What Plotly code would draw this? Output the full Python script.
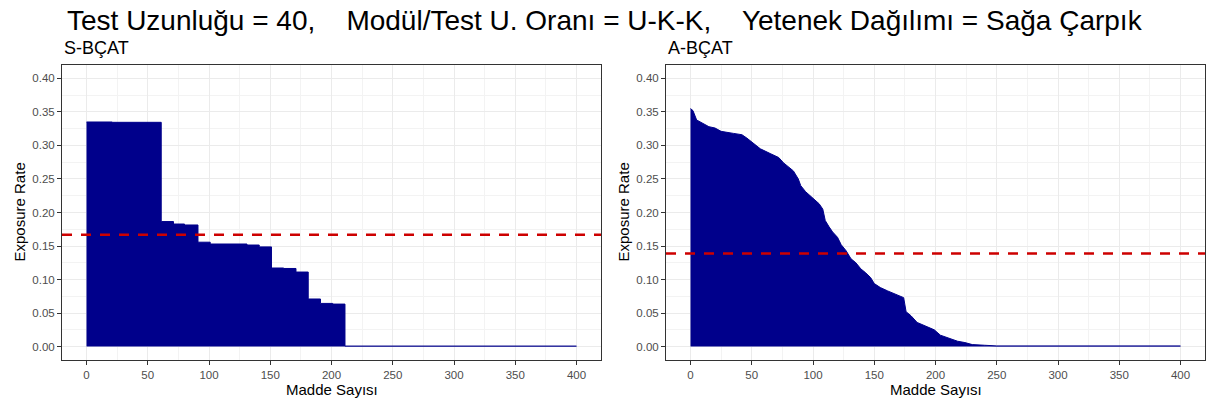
import plotly.graph_objects as go

# ---------------- data ----------------
# S-BÇAT: step levels (item index where level starts, exposure rate)
s_items = [0, 21, 61, 71, 80, 91, 101, 131, 141, 151, 161, 171, 181, 191, 201, 211, 400]
s_rates = [0.335, 0.3345, 0.1865, 0.1828, 0.1814, 0.1557, 0.1530, 0.1515, 0.1487,
           0.1172, 0.1165, 0.1112, 0.0710, 0.0644, 0.0634, 0.0008, 0.0008]
s_mean = 0.1667

# A-BÇAT: sorted exposure rates
a_items = [0, 2, 5, 10, 15, 20, 25, 35, 42, 46, 50, 57, 65, 72, 76, 80, 84, 88, 90, 94,
           101, 105, 108, 110, 113, 116, 120, 123, 127, 131, 135, 139, 143, 147, 150,
           155, 161, 166, 171, 174, 176, 180, 185, 190, 195, 199, 204, 210, 218, 224,
           230, 240, 250, 400]
a_rates = [0.355, 0.352, 0.338, 0.333, 0.328, 0.326, 0.321, 0.318, 0.316, 0.311, 0.305,
           0.295, 0.288, 0.282, 0.274, 0.268, 0.262, 0.250, 0.240, 0.231,
           0.220, 0.213, 0.205, 0.188, 0.179, 0.171, 0.163, 0.152, 0.143, 0.131,
           0.125, 0.116, 0.110, 0.103, 0.094,
           0.088, 0.083, 0.079, 0.076, 0.073, 0.052, 0.046, 0.036, 0.032, 0.028,
           0.025, 0.017, 0.013, 0.008, 0.006, 0.003, 0.002, 0.001, 0.001]
a_mean = 0.139

panel_titles = ["S-BÇAT", "A-BÇAT"]
main_title = "Test Uzunluğu = 40,    Modül/Test U. Oranı = U-K-K,    Yetenek Dağılımı = Sağa Çarpık"
x_ticks = [0, 50, 100, 150, 200, 250, 300, 350, 400]
y_ticks = [0.0, 0.05, 0.10, 0.15, 0.20, 0.25, 0.30, 0.35, 0.40]
x_label = "Madde Sayısı"
y_label = "Exposure Rate"

# ---------------- figure ----------------
W, H = 1210, 405
FONT = "Liberation Sans, Arial, Helvetica, sans-serif"
FILL = "#00008B"
RED = "#CD0000"

px = lambda v: v / W
py = lambda v: 1 - v / H

dom_x = [[px(62), px(601)], [px(666), px(1205)]]
dom_y = [py(360), py(65)]

fig = go.Figure()

fig.add_trace(go.Scatter(x=s_items, y=s_rates, mode="lines", line=dict(shape="hv", color=FILL, width=1),
                         fill="tozeroy", fillcolor=FILL, xaxis="x", yaxis="y", showlegend=False,
                         hoverinfo="x+y"))
fig.add_trace(go.Scatter(x=a_items, y=a_rates, mode="lines", line=dict(shape="linear", color=FILL, width=1),
                         fill="tozeroy", fillcolor=FILL, xaxis="x2", yaxis="y2", showlegend=False,
                         hoverinfo="x+y"))

for m, xa, ya in [(s_mean, "x", "y"), (a_mean, "x2", "y2")]:
    fig.add_shape(type="line", xref=f"{xa} domain", yref=ya, x0=0, x1=1, y0=m, y1=m,
                  line=dict(color=RED, width=2.5, dash="10px,9px"), layer="above")

TICKFONT = dict(family=FONT, size=11.5, color="#4D4D4D")
axis_common = dict(showline=True, linecolor="#333333", linewidth=1, mirror=True,
                   ticks="outside", ticklen=4, tickcolor="#333333", tickwidth=1,
                   showgrid=True, gridcolor="#EBEBEB", gridwidth=1,
                   zeroline=False, tickfont=TICKFONT)

for i in range(2):
    sfx = "" if i == 0 else "2"
    fig.update_layout(**{
        f"xaxis{sfx}": dict(axis_common, domain=dom_x[i], range=[-20, 420], tickvals=x_ticks,
                            ticktext=[str(v) for v in x_ticks],
                            minor=dict(showgrid=True, gridcolor="#F3F3F3", gridwidth=0.6, dtick=25, tick0=0),
                            anchor="y" + sfx),
        f"yaxis{sfx}": dict(axis_common, domain=dom_y, range=[-0.02, 0.42], tickvals=y_ticks,
                            ticktext=[f"{v:.2f}" for v in y_ticks],
                            minor=dict(showgrid=True, gridcolor="#F3F3F3", gridwidth=0.6, dtick=0.025, tick0=0),
                            anchor="x" + sfx),
    })

ann = []
ann.append(dict(text=main_title, x=px(605), y=py(20), xref="paper", yref="paper", xanchor="center",
                yanchor="middle", showarrow=False, font=dict(family=FONT, size=28, color="black")))
for i in range(2):
    ann.append(dict(text=panel_titles[i], x=dom_x[i][0], y=py(48), xref="paper", yref="paper",
                    xanchor="left", yanchor="middle", showarrow=False,
                    font=dict(family=FONT, size=18, color="black")))
    ann.append(dict(text=x_label, x=(dom_x[i][0] + dom_x[i][1]) / 2, y=py(389), xref="paper", yref="paper",
                    xanchor="center", yanchor="middle", showarrow=False,
                    font=dict(family=FONT, size=15, color="black")))
    ann.append(dict(text=y_label, x=dom_x[i][0] - 43 / W, y=(dom_y[0] + dom_y[1]) / 2, xref="paper",
                    yref="paper", xanchor="center", yanchor="middle", textangle=-90, showarrow=False,
                    font=dict(family=FONT, size=15, color="black")))

fig.update_layout(width=W, height=H, margin=dict(l=0, r=0, t=0, b=0),
                  paper_bgcolor="white", plot_bgcolor="white", annotations=ann,
                  font=dict(family=FONT))

fig.write_html("out.html", config={"displayModeBar": False},
               post_script="document.body.style.margin='0px';document.body.style.overflow='hidden';")
